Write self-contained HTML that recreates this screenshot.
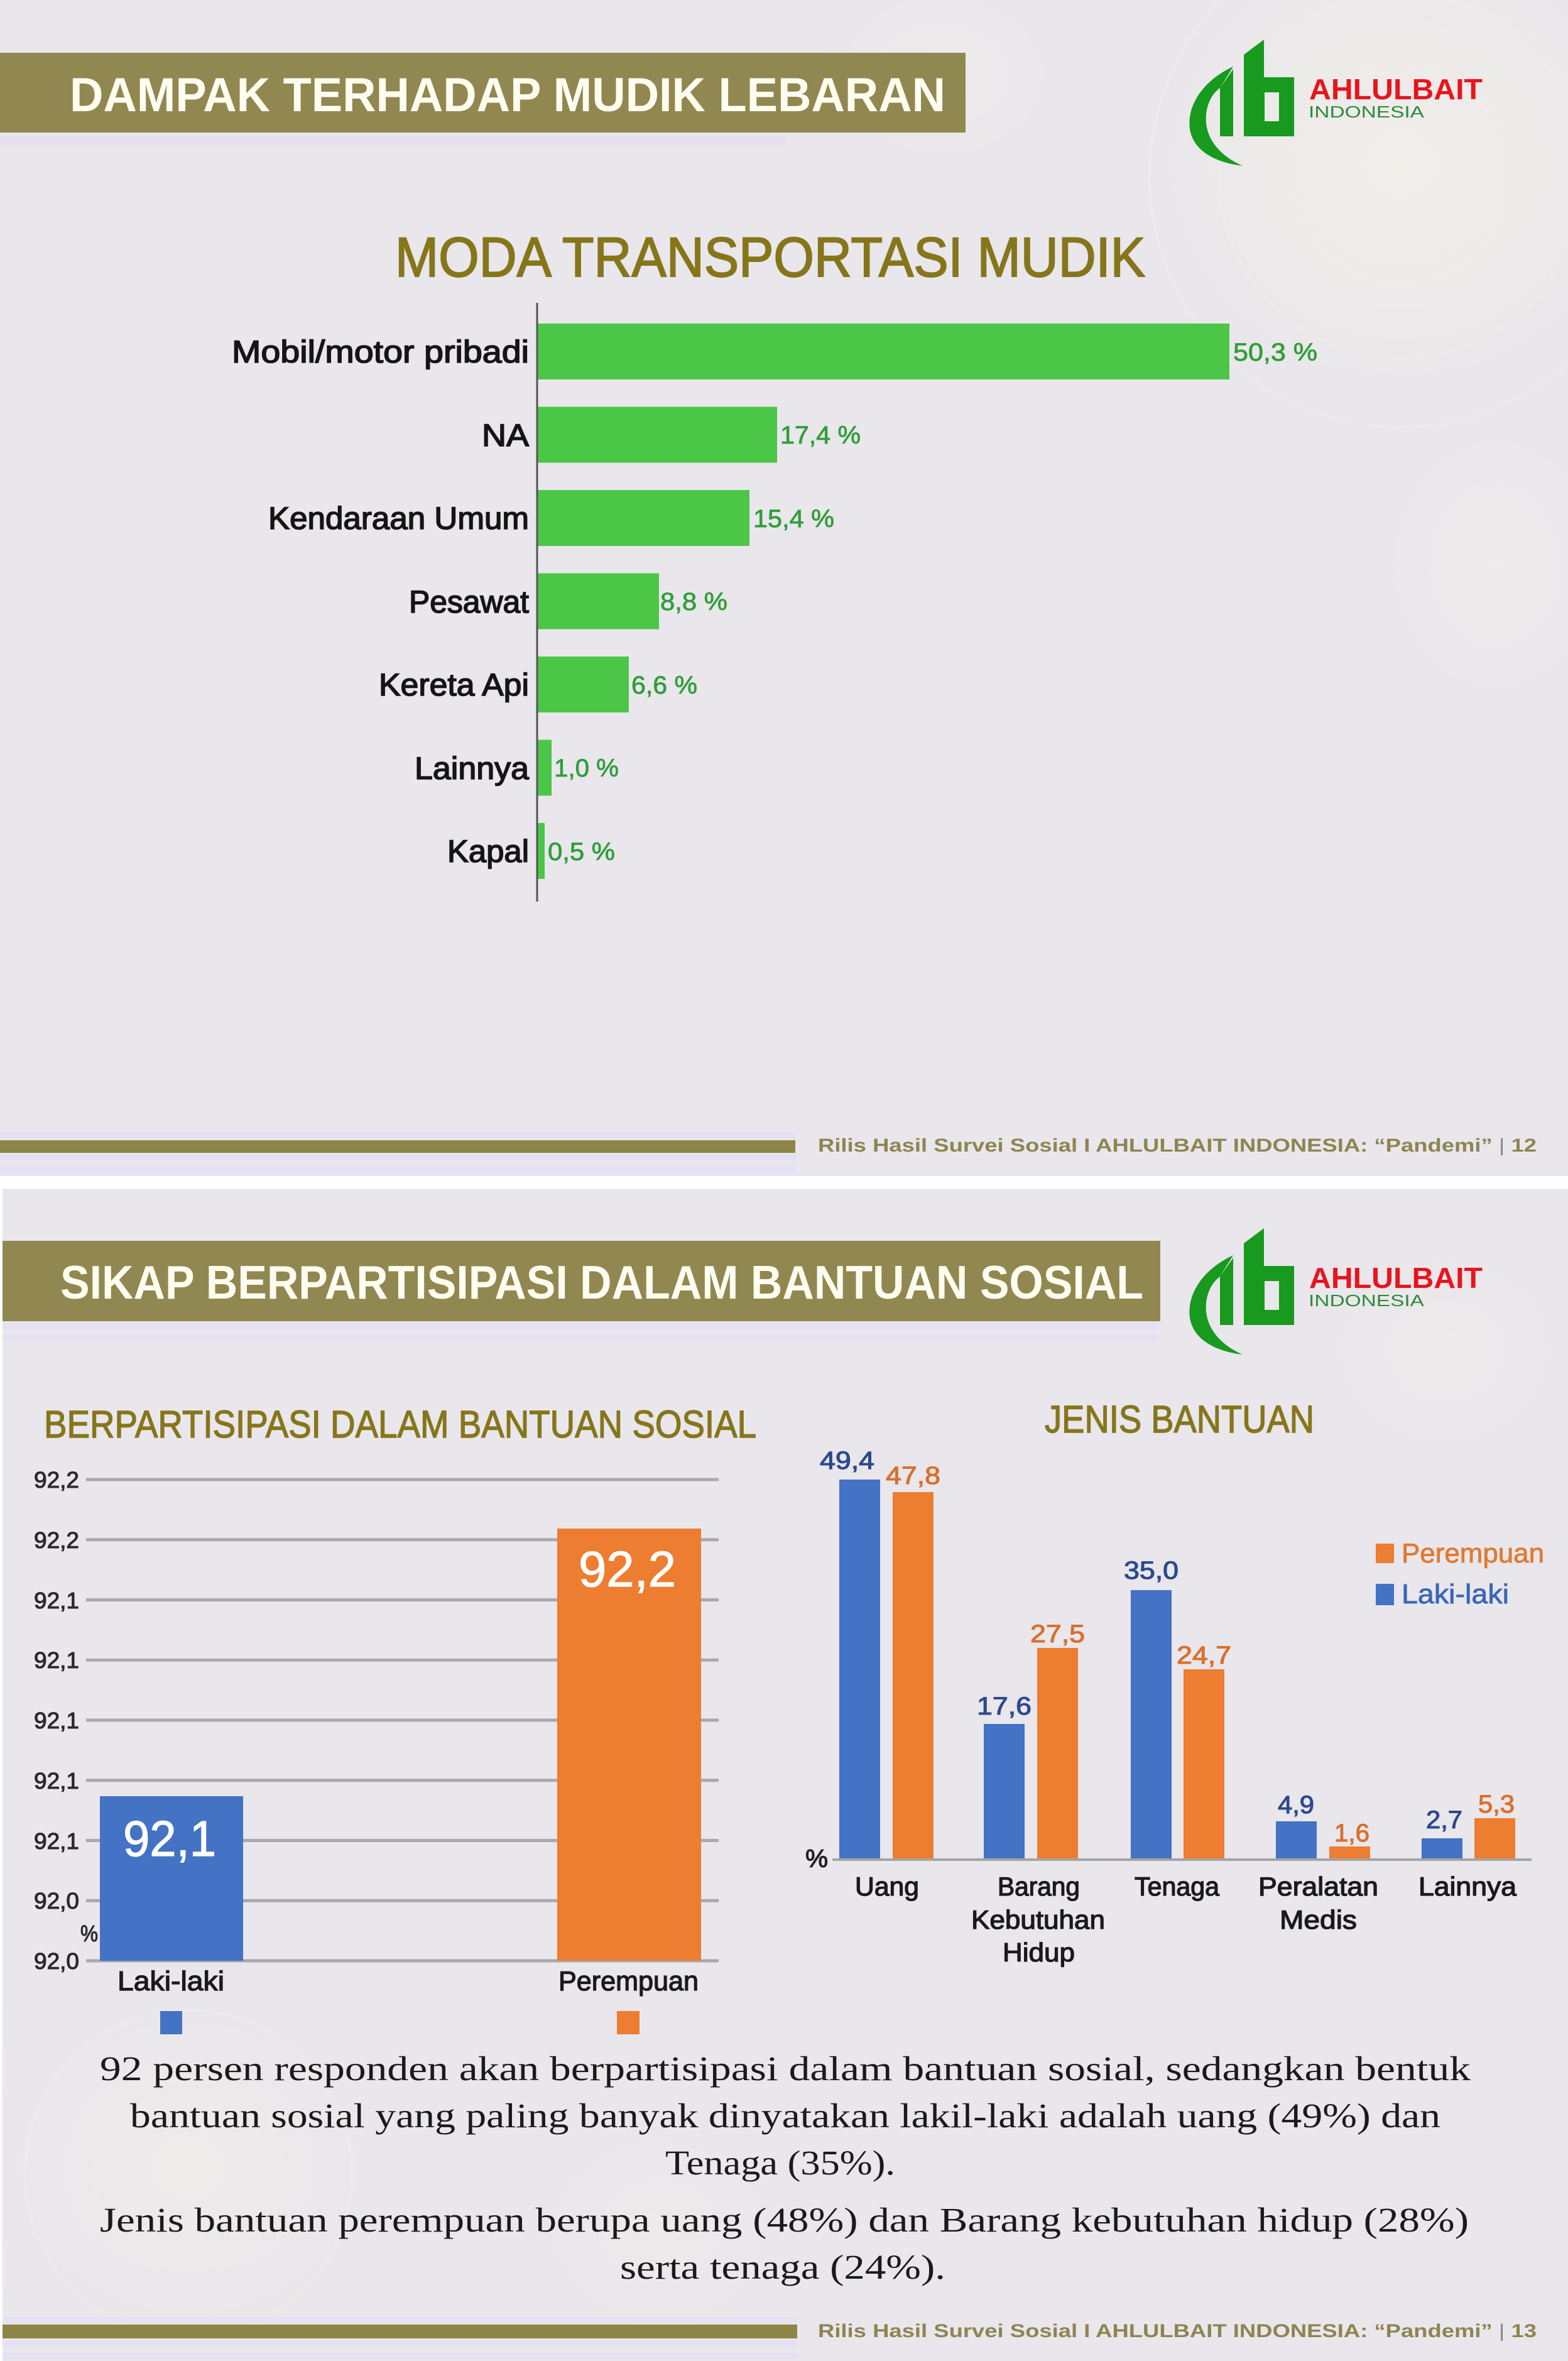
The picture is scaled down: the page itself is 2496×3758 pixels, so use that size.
<!DOCTYPE html>
<html><head><meta charset="utf-8"><style>
html,body{margin:0;padding:0;background:#fff;}
svg{display:block;}
text{font-family:"Liberation Sans",sans-serif;}
.serif{font-family:"Liberation Serif",serif;}
</style></head><body>
<svg width="2496" height="3758" viewBox="0 0 2496 3758" xmlns="http://www.w3.org/2000/svg">
<defs>
<radialGradient id="orn" cx="50%" cy="50%" r="50%">
<stop offset="0" stop-color="#f3f0ea" stop-opacity="0.8"/>
<stop offset="0.6" stop-color="#eeebe9" stop-opacity="0.5"/>
<stop offset="1" stop-color="#e9e6ec" stop-opacity="0"/>
</radialGradient>
<g id="logo">
<path d="M1963,106 C1915,128 1889,168 1894,205 C1899,240 1935,259 1978,264 C1946,250 1923,226 1920,196 C1918,170 1928,150 1942,140 Z" fill="#179a1e"/>
<polygon points="1942,140 1963,110 1963,217 1942,217" fill="#179a1e"/>
<path fill-rule="evenodd" d="M1980,87 L2012,63 L2012,123 L2060,123 L2060,217 L1980,217 Z M2013,147 L2036,147 L2036,193 L2013,193 Z" fill="#179a1e"/>
<text x="2084" y="158" font-size="46" font-weight="bold" fill="#e8141e" textLength="276" lengthAdjust="spacingAndGlyphs">AHLULBAIT</text>
<text x="2083" y="187" font-size="26" fill="#2f8a3c" textLength="184" lengthAdjust="spacingAndGlyphs">INDONESIA</text>
</g>
</defs>

<!-- ===== SLIDE 1 ===== -->
<rect x="0" y="0" width="2496" height="1872" fill="#e9e6ec"/>
<ellipse cx="2230" cy="260" rx="520" ry="480" fill="url(#orn)"/>
<ellipse cx="1500" cy="120" rx="260" ry="200" fill="url(#orn)" opacity="0.6"/>
<ellipse cx="2380" cy="900" rx="260" ry="320" fill="url(#orn)" opacity="0.6"/>
<g fill="none" stroke="#f1eee9" stroke-width="4" opacity="0.45">
<circle cx="2230" cy="280" r="170"/>
<circle cx="2230" cy="280" r="290"/>
<circle cx="2230" cy="280" r="400"/>
</g>

<rect x="0" y="84" width="1537" height="127" fill="#918851"/>
<text x="111" y="177" font-size="76" font-weight="bold" fill="#fffdf0" textLength="1394" lengthAdjust="spacingAndGlyphs">DAMPAK TERHADAP MUDIK LEBARAN</text>
<rect x="0" y="216" width="1250" height="16" fill="#e3dff4" opacity="0.8"/>
<use href="#logo"/>

<text x="629" y="440" font-size="89" fill="#86761a" stroke="#86761a" stroke-width="2" textLength="1194" lengthAdjust="spacingAndGlyphs">MODA TRANSPORTASI MUDIK</text>

<!-- bars -->
<g fill="#4cc646">
<rect x="856" y="515" width="1101" height="89"/>
<rect x="856" y="647.5" width="381" height="89"/>
<rect x="856" y="780" width="337" height="89"/>
<rect x="856" y="912.5" width="193" height="89"/>
<rect x="856" y="1045" width="145" height="89"/>
<rect x="856" y="1177.5" width="22" height="89"/>
<rect x="856" y="1310" width="11" height="89"/>
</g>
<line x1="855" y1="482" x2="855" y2="1435" stroke="#555" stroke-width="3"/>

<g font-size="50" fill="#151515" stroke="#151515" stroke-width="1.6">
<text x="369" y="577" textLength="473" lengthAdjust="spacingAndGlyphs">Mobil/motor pribadi</text>
<text x="767" y="710" textLength="75" lengthAdjust="spacingAndGlyphs">NA</text>
<text x="427" y="842" textLength="415" lengthAdjust="spacingAndGlyphs">Kendaraan Umum</text>
<text x="651" y="975" textLength="191" lengthAdjust="spacingAndGlyphs">Pesawat</text>
<text x="603" y="1107" textLength="239" lengthAdjust="spacingAndGlyphs">Kereta Api</text>
<text x="660" y="1240" textLength="182" lengthAdjust="spacingAndGlyphs">Lainnya</text>
<text x="712" y="1372" textLength="130" lengthAdjust="spacingAndGlyphs">Kapal</text>
</g>
<g font-size="40" fill="#2f9e38" stroke="#2f9e38" stroke-width="0.8">
<text x="1963" y="574" textLength="134" lengthAdjust="spacingAndGlyphs">50,3 %</text>
<text x="1242" y="706" textLength="128" lengthAdjust="spacingAndGlyphs">17,4 %</text>
<text x="1199" y="839" textLength="129" lengthAdjust="spacingAndGlyphs">15,4 %</text>
<text x="1051" y="971" textLength="107" lengthAdjust="spacingAndGlyphs">8,8 %</text>
<text x="1005" y="1104" textLength="105" lengthAdjust="spacingAndGlyphs">6,6 %</text>
<text x="882" y="1236" textLength="103" lengthAdjust="spacingAndGlyphs">1,0 %</text>
<text x="872" y="1369" textLength="107" lengthAdjust="spacingAndGlyphs">0,5 %</text>
</g>

<!-- footer 1 -->
<rect x="0" y="1803" width="1266" height="9" fill="#e3dff4"/>
<rect x="0" y="1815" width="1266" height="20" fill="#8d8546"/>
<rect x="0" y="1838" width="1266" height="8" fill="#e3dff4"/>
<rect x="0" y="1855" width="1266" height="13" fill="#e3dff4"/>
<text x="1302" y="1833" font-size="30" font-weight="bold" fill="#8c8550" textLength="1144" lengthAdjust="spacingAndGlyphs">Rilis Hasil Survei Sosial I AHLULBAIT INDONESIA: “Pandemi” <tspan fill="#888" font-weight="normal">|</tspan> 12</text>

<!-- ===== SLIDE 2 ===== -->
<rect x="4" y="1892" width="2492" height="1866" fill="#e9e6ec"/>
<ellipse cx="300" cy="3450" rx="420" ry="360" fill="url(#orn)" opacity="0.7"/>
<ellipse cx="1050" cy="3550" rx="300" ry="260" fill="url(#orn)" opacity="0.5"/>
<ellipse cx="2300" cy="2150" rx="300" ry="260" fill="url(#orn)" opacity="0.5"/>
<g fill="none" stroke="#f0ede8" stroke-width="4" opacity="0.4">
<circle cx="300" cy="3460" r="150"/>
<circle cx="300" cy="3460" r="260"/>
</g>

<rect x="4" y="1975" width="1843" height="128" fill="#918851"/>
<text x="96" y="2067" font-size="75" font-weight="bold" fill="#fffdf0" textLength="1724" lengthAdjust="spacingAndGlyphs">SIKAP BERPARTISIPASI DALAM BANTUAN SOSIAL</text>
<rect x="4" y="2106" width="1840" height="10" fill="#e3dff4" opacity="0.8"/>
<rect x="4" y="2123" width="1840" height="12" fill="#e3dff4" opacity="0.8"/>
<use href="#logo" transform="translate(0,1892)"/>

<!-- left chart -->
<text x="70" y="2288" font-size="61" fill="#86761a" stroke="#86761a" stroke-width="1.4" textLength="1134" lengthAdjust="spacingAndGlyphs">BERPARTISIPASI DALAM BANTUAN SOSIAL</text>
<g stroke="#a9a9a9" stroke-width="5">
<line x1="137" y1="2355" x2="1144" y2="2355"/>
<line x1="137" y1="2450.75" x2="1144" y2="2450.75"/>
<line x1="137" y1="2546.5" x2="1144" y2="2546.5"/>
<line x1="137" y1="2642.25" x2="1144" y2="2642.25"/>
<line x1="137" y1="2738" x2="1144" y2="2738"/>
<line x1="137" y1="2833.75" x2="1144" y2="2833.75"/>
<line x1="137" y1="2929.5" x2="1144" y2="2929.5"/>
<line x1="137" y1="3025.25" x2="1144" y2="3025.25"/>
<line x1="137" y1="3121" x2="1144" y2="3121"/>
</g>
<g font-size="36" fill="#2a2a2a" stroke="#2a2a2a" stroke-width="1.1">
<text x="54" y="2368" textLength="72" lengthAdjust="spacingAndGlyphs">92,2</text>
<text x="54" y="2464" textLength="72" lengthAdjust="spacingAndGlyphs">92,2</text>
<text x="54" y="2560" textLength="72" lengthAdjust="spacingAndGlyphs">92,1</text>
<text x="54" y="2655" textLength="72" lengthAdjust="spacingAndGlyphs">92,1</text>
<text x="54" y="2751" textLength="72" lengthAdjust="spacingAndGlyphs">92,1</text>
<text x="54" y="2847" textLength="72" lengthAdjust="spacingAndGlyphs">92,1</text>
<text x="54" y="2943" textLength="72" lengthAdjust="spacingAndGlyphs">92,1</text>
<text x="54" y="3038" textLength="72" lengthAdjust="spacingAndGlyphs">92,0</text>
<text x="54" y="3134" textLength="72" lengthAdjust="spacingAndGlyphs">92,0</text>
<text x="128" y="3090" textLength="28" lengthAdjust="spacingAndGlyphs">%</text>
</g>
<rect x="159" y="2859" width="228" height="262" fill="#4472c4"/>
<rect x="887" y="2433" width="229" height="688" fill="#ed7d31"/>
<text x="196" y="2954" font-size="80" fill="#ffffff" stroke="#ffffff" stroke-width="1.2" textLength="148" lengthAdjust="spacingAndGlyphs">92,1</text>
<text x="921" y="2525" font-size="80" fill="#ffffff" stroke="#ffffff" stroke-width="1.2" textLength="155" lengthAdjust="spacingAndGlyphs">92,2</text>
<g font-size="44" fill="#1a1a1a" stroke="#1a1a1a" stroke-width="1.3">
<text x="187" y="3168" textLength="170" lengthAdjust="spacingAndGlyphs">Laki-laki</text>
<text x="889" y="3168" textLength="223" lengthAdjust="spacingAndGlyphs">Perempuan</text>
</g>
<rect x="255" y="3201" width="35" height="37" fill="#4472c4"/>
<rect x="982" y="3201" width="36" height="37" fill="#ed7d31"/>

<!-- right chart -->
<text x="1663" y="2280" font-size="61" fill="#86761a" stroke="#86761a" stroke-width="1.4" textLength="429" lengthAdjust="spacingAndGlyphs">JENIS BANTUAN</text>
<g fill="#4472c4">
<rect x="1336" y="2355" width="65" height="604"/>
<rect x="1566" y="2744" width="65" height="215"/>
<rect x="1800" y="2531" width="65" height="428"/>
<rect x="2031" y="2899" width="65" height="60"/>
<rect x="2263" y="2926" width="65" height="33"/>
</g>
<g fill="#ed7d31">
<rect x="1421" y="2375" width="65" height="584"/>
<rect x="1651" y="2623" width="65" height="336"/>
<rect x="1884" y="2657" width="65" height="302"/>
<rect x="2116" y="2939" width="65" height="20"/>
<rect x="2347" y="2894" width="65" height="65"/>
</g>
<line x1="1325" y1="2960" x2="2438" y2="2960" stroke="#a4a4a4" stroke-width="4"/>
<text x="1282" y="2972" font-size="40" fill="#222" stroke="#222" stroke-width="1.2" textLength="36" lengthAdjust="spacingAndGlyphs">%</text>
<g font-size="40" fill="#2b4a8c" stroke="#2b4a8c" stroke-width="1.1">
<text x="1305" y="2338" textLength="87" lengthAdjust="spacingAndGlyphs">49,4</text>
<text x="1555" y="2729" textLength="87" lengthAdjust="spacingAndGlyphs">17,6</text>
<text x="1789" y="2513" textLength="87" lengthAdjust="spacingAndGlyphs">35,0</text>
<text x="2034" y="2886" textLength="58" lengthAdjust="spacingAndGlyphs">4,9</text>
<text x="2270" y="2910" textLength="58" lengthAdjust="spacingAndGlyphs">2,7</text>
</g>
<g font-size="40" fill="#d9702c" stroke="#d9702c" stroke-width="1.1">
<text x="1410" y="2362" textLength="87" lengthAdjust="spacingAndGlyphs">47,8</text>
<text x="1640" y="2614" textLength="87" lengthAdjust="spacingAndGlyphs">27,5</text>
<text x="1873" y="2648" textLength="87" lengthAdjust="spacingAndGlyphs">24,7</text>
<text x="2124" y="2931" textLength="56" lengthAdjust="spacingAndGlyphs">1,6</text>
<text x="2353" y="2885" textLength="58" lengthAdjust="spacingAndGlyphs">5,3</text>
</g>
<g font-size="42" fill="#1a1a1a" stroke="#1a1a1a" stroke-width="1.3">
<text x="1361" y="3017" textLength="102" lengthAdjust="spacingAndGlyphs">Uang</text>
<text x="1588" y="3017" textLength="131" lengthAdjust="spacingAndGlyphs">Barang</text>
<text x="1546" y="3070" textLength="213" lengthAdjust="spacingAndGlyphs">Kebutuhan</text>
<text x="1596" y="3122" textLength="115" lengthAdjust="spacingAndGlyphs">Hidup</text>
<text x="1806" y="3017" textLength="135" lengthAdjust="spacingAndGlyphs">Tenaga</text>
<text x="2003" y="3017" textLength="191" lengthAdjust="spacingAndGlyphs">Peralatan</text>
<text x="2037" y="3070" textLength="123" lengthAdjust="spacingAndGlyphs">Medis</text>
<text x="2258" y="3017" textLength="156" lengthAdjust="spacingAndGlyphs">Lainnya</text>
</g>
<rect x="2190" y="2457" width="29" height="31" fill="#ed7d31"/>
<text x="2231" y="2487" font-size="44" fill="#e07a30" stroke="#e07a30" stroke-width="0.8" textLength="227" lengthAdjust="spacingAndGlyphs">Perempuan</text>
<rect x="2190" y="2521" width="29" height="34" fill="#4472c4"/>
<text x="2231" y="2552" font-size="44" fill="#3a66b8" stroke="#3a66b8" stroke-width="0.8" textLength="171" lengthAdjust="spacingAndGlyphs">Laki-laki</text>

<!-- paragraph -->
<g class="serif" font-size="55" fill="#1a1a1a">
<text class="serif" x="159" y="3311" textLength="2182" lengthAdjust="spacingAndGlyphs">92 persen responden akan berpartisipasi dalam bantuan sosial, sedangkan bentuk</text>
<text class="serif" x="207" y="3386" textLength="2086" lengthAdjust="spacingAndGlyphs">bantuan sosial yang paling banyak dinyatakan lakil-laki adalah uang (49%) dan</text>
<text class="serif" x="1059" y="3461" textLength="366" lengthAdjust="spacingAndGlyphs">Tenaga (35%).</text>
<text class="serif" x="159" y="3552" textLength="2179" lengthAdjust="spacingAndGlyphs">Jenis bantuan perempuan berupa uang (48%) dan Barang kebutuhan hidup (28%)</text>
<text class="serif" x="987" y="3627" textLength="518" lengthAdjust="spacingAndGlyphs">serta tenaga (24%).</text>
</g>

<!-- footer 2 -->
<rect x="4" y="3688" width="1265" height="9" fill="#e3dff4" opacity="0.8"/>
<rect x="4" y="3700" width="1265" height="22" fill="#8d8546"/>
<rect x="4" y="3726" width="1265" height="9" fill="#e3dff4" opacity="0.8"/>
<rect x="4" y="3745" width="1265" height="10" fill="#e3dff4" opacity="0.8"/>
<text x="1302" y="3720" font-size="30" font-weight="bold" fill="#8c8550" textLength="1144" lengthAdjust="spacingAndGlyphs">Rilis Hasil Survei Sosial I AHLULBAIT INDONESIA: “Pandemi” <tspan fill="#888" font-weight="normal">|</tspan> 13</text>
</svg>
</body></html>
